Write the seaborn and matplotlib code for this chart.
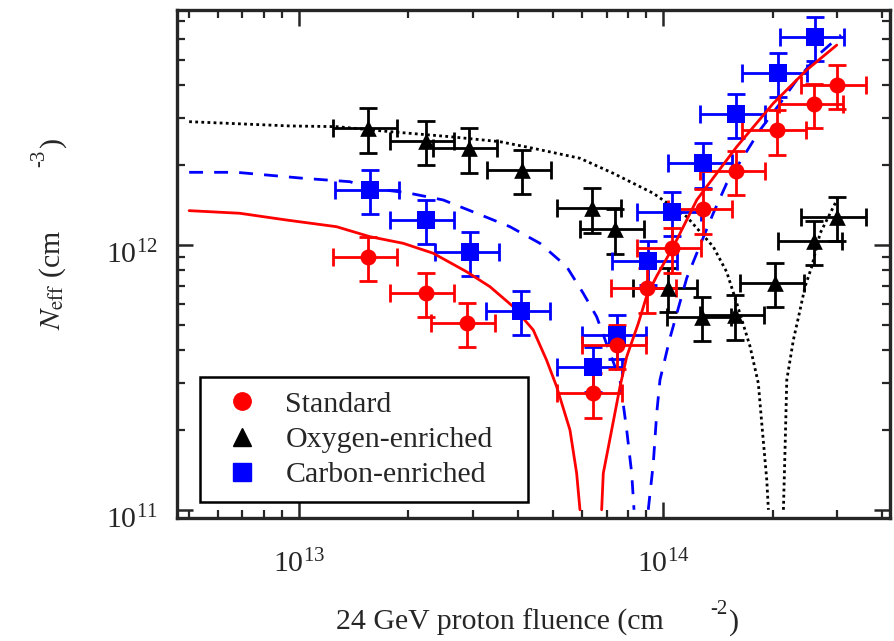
import matplotlib
matplotlib.use("Agg")
import matplotlib.pyplot as plt
import matplotlib.transforms as mtransforms
import seaborn as sns
from matplotlib.lines import Line2D
from matplotlib.ticker import LogLocator, NullFormatter, LogFormatterMathtext

sns.set_style("ticks")
plt.rcParams["font.family"] = ["Liberation Serif", "DejaVu Serif"]
plt.rcParams["mathtext.fontset"] = "stix"

# ---- measured effective doping vs. 24 GeV proton fluence ----
std_fluence = [1.55e13, 2.23e13, 2.89e13, 6.41e13, 7.49e13, 9.02e13,
               1.058e14, 1.29e14, 1.584e14, 2.06e14, 2.60e14, 3.00e14]
std_neff = [9.02e11, 6.60e11, 5.08e11, 2.75e11, 4.20e11, 6.85e11,
            9.70e11, 1.36e12, 1.90e12, 2.70e12, 3.40e12, 4.01e12]

oxy_fluence = [1.55e13, 2.23e13, 2.925e13, 4.11e13, 6.39e13, 7.38e13,
               1.034e14, 1.282e14, 1.577e14, 2.03e14, 2.59e14, 3.00e14]
oxy_neff = [2.75e12, 2.47e12, 2.31e12, 1.915e12, 1.373e12, 1.144e12,
            6.89e11, 5.36e11, 5.41e11, 7.16e11, 1.036e12, 1.276e12]

carb_fluence = [1.567e13, 2.23e13, 2.95e13, 4.07e13, 6.41e13, 7.49e13,
                9.08e13, 1.058e14, 1.29e14, 1.584e14, 2.066e14, 2.62e14]
carb_neff = [1.606e12, 1.24e12, 9.42e11, 5.64e11, 3.45e11, 4.57e11,
             8.69e11, 1.327e12, 2.03e12, 3.11e12, 4.44e12, 6.10e12]

# relative uncertainties of fluence and Neff
fluence_rel_err = 0.20
neff_rel_err = 0.19

# ---- model curves |Neff| (before and after type inversion) ----
std_model_pre_x = [5.0e12, 6.88e12, 9.25e12, 1.269e13, 1.567e13, 1.934e13, 2.339e13,
                   2.889e13, 3.347e13, 3.879e13, 4.402e13, 4.79e13, 5.105e13,
                   5.553e13, 5.793e13, 5.916e13]
std_model_pre_y = [1.345e12, 1.315e12, 1.24e12, 1.17e12, 1.073e12, 1.013e12, 9.29e11,
                   7.91e11, 6.95e11, 5.84e11, 4.77e11, 3.67e11, 2.914e11,
                   2.0e11, 1.373e11, 1.0e11]
std_model_post_x = [6.785e13, 6.855e13, 7.228e13, 7.619e13, 7.949e13, 8.554e13, 9.02e13,
                    9.61e13, 1.067e14, 1.238e14, 1.318e14, 1.594e14, 2.009e14,
                    2.482e14, 3.0e14]
std_model_post_y = [1.0e11, 1.373e11, 2.0e11, 2.914e11, 3.78e11, 5.05e11, 6.41e11,
                    7.62e11, 9.83e11, 1.476e12, 1.657e12, 2.345e12, 3.42e12,
                    4.57e12, 5.67e12]

carb_model_pre_x = [5.0e12, 6.74e12, 1.028e13, 1.381e13, 1.567e13, 1.976e13, 2.491e13,
                    3.077e13, 3.8e13, 4.592e13, 5.438e13, 6.04e13, 6.575e13,
                    7.151e13, 7.619e13, 7.949e13, 8.204e13, 8.325e13]
carb_model_pre_y = [1.877e12, 1.877e12, 1.782e12, 1.73e12, 1.634e12, 1.573e12, 1.476e12,
                    1.315e12, 1.17e12, 1.013e12, 8.27e11, 6.56e11, 5.35e11,
                    3.9e11, 3.09e11, 2.0e11, 1.373e11, 1.0e11]
carb_model_post_x = [9.11e13, 9.405e13, 9.61e13, 9.81e13, 1.045e14, 1.162e14, 1.238e14,
                     1.374e14, 1.496e14, 1.662e14, 1.847e14, 2.097e14, 2.33e14,
                     2.7e14, 3.08e14]
carb_model_post_y = [1.0e11, 1.498e11, 2.313e11, 3.09e11, 4.45e11, 7.49e11, 9.29e11,
                     1.315e12, 1.707e12, 2.15e12, 2.712e12, 3.42e12, 4.19e12,
                     5.28e12, 6.19e12]

oxy_model_pre_x = [5.0e12, 9.45e12, 1.269e13, 1.778e13, 2.6e13, 3.566e13, 4.402e13,
                   5.916e13, 7.3e13, 9.405e13, 1.162e14, 1.374e14, 1.496e14,
                   1.594e14, 1.734e14, 1.827e14, 1.867e14, 1.927e14, 1.947e14]
oxy_model_pre_y = [2.914e12, 2.808e12, 2.791e12, 2.672e12, 2.558e12, 2.449e12, 2.312e12,
                   2.12e12, 1.861e12, 1.564e12, 1.276e12, 9.83e11, 7.89e11,
                   6.02e11, 4.13e11, 3.0e11, 2.12e11, 1.296e11, 1.0e11]
oxy_model_post_x = [2.141e14, 2.164e14, 2.187e14, 2.28e14, 2.378e14, 2.455e14,
                    2.561e14, 2.7e14, 3.05e14]
oxy_model_post_y = [1.0e11, 1.73e11, 3.09e11, 4.37e11, 5.67e11, 6.95e11,
                    8.27e11, 1.105e12, 1.541e12]

colors = {"Standard": "#ff0000", "Oxygen-enriched": "#000000", "Carbon-enriched": "#0000ff"}
markers = {"Standard": "o", "Oxygen-enriched": "^", "Carbon-enriched": "s"}
msize = {"Standard": 11.5, "Oxygen-enriched": 12.0, "Carbon-enriched": 12.5}

fig = plt.figure(figsize=(8.94, 6.41), dpi=100)
ax = fig.add_axes([177 / 894, 123 / 641, 713 / 894, 508 / 641])
ax.set_xscale("log")
ax.set_yscale("log")

series = [
    ("Oxygen-enriched", oxy_fluence, oxy_neff,
     [(oxy_model_pre_x, oxy_model_pre_y), (oxy_model_post_x, oxy_model_post_y)],
     dict(linestyle=(0, (1, 1.2)), linewidth=2.0)),
    ("Carbon-enriched", carb_fluence, carb_neff,
     [(carb_model_pre_x, carb_model_pre_y), (carb_model_post_x, carb_model_post_y)],
     dict(linestyle=(0, (5, 4)), linewidth=2.0)),
    ("Standard", std_fluence, std_neff,
     [(std_model_pre_x, std_model_pre_y), (std_model_post_x, std_model_post_y)],
     dict(linestyle="-", linewidth=2.0)),
]

handles = {}
for name, fx, ny, curves, lstyle in series:
    c = colors[name]
    for cx, cy in curves:
        sns.lineplot(x=cx, y=cy, ax=ax, color=c, sort=False, estimator=None,
                     **lstyle)
    xerr = [v * fluence_rel_err for v in fx]
    yerr = [v * neff_rel_err for v in ny]
    ax.errorbar(fx, ny, xerr=xerr, yerr=yerr, fmt="none", ecolor=c,
                elinewidth=2.0, capsize=6.5, capthick=2.0)
    sns.scatterplot(x=fx, y=ny, ax=ax, color=c, marker=markers[name],
                    s=msize[name] ** 2, linewidth=0, zorder=3)
    handles[name] = Line2D([], [], linestyle="none", marker=markers[name],
                           color=c, markersize=msize[name] + 1, label=name)

ax.set_xlim(4.63e12, 4.2e14)
ax.set_ylim(9.31e10, 7.69e12)

for axis in (ax.xaxis, ax.yaxis):
    axis.set_major_locator(LogLocator(base=10))
    axis.set_minor_locator(LogLocator(base=10, subs=range(2, 10)))
    axis.set_minor_formatter(NullFormatter())
    axis.set_major_formatter(LogFormatterMathtext())

ax.tick_params(which="both", direction="in", top=True, right=True,
               labelsize=21.5)
ax.tick_params(which="major", length=11.5, width=1.8)
ax.tick_params(which="minor", length=6, width=1.6)
ax.tick_params(axis="x", which="major", pad=23)
ax.tick_params(axis="y", which="major", pad=14)
for sp in ax.spines.values():
    sp.set_linewidth(2.4)

# nudge the y tick labels slightly downward
shift = mtransforms.ScaledTranslation(0, -5 / 72, fig.dpi_scale_trans)
for lab in ax.get_yticklabels():
    lab.set_transform(lab.get_transform() + shift)

order = ["Standard", "Oxygen-enriched", "Carbon-enriched"]
leg = ax.legend([handles[k] for k in order], order, loc="lower left",
                bbox_to_anchor=(0.0323, 0.0315, 0.46, 0.244), mode="expand",
                fontsize=21.5, frameon=True, fancybox=False, framealpha=1,
                borderpad=0.46, handlelength=1.9, handletextpad=0.5,
                labelspacing=0.28, borderaxespad=0)
leg.get_frame().set_edgecolor("black")
leg.get_frame().set_linewidth(1.8)

# axis titles
fig.text(664 / 894, 11 / 641, "24 GeV proton fluence (cm", ha="right",
         va="baseline", fontsize=21.5)
fig.text(710 / 894, 27 / 641, "-2", ha="left", va="baseline", fontsize=15)
fig.text(729 / 894, 11 / 641, ")", ha="left", va="baseline", fontsize=21.5)

fig.text(60 / 894, 311 / 641, r"$N_{\rm eff}$ (cm", rotation=90,
         rotation_mode="anchor", ha="left", va="baseline", fontsize=21.5)
fig.text(44 / 894, 474 / 641, "-3", rotation=90, rotation_mode="anchor",
         ha="left", va="baseline", fontsize=15)
fig.text(60 / 894, 494 / 641, ")", rotation=90, rotation_mode="anchor",
         ha="left", va="baseline", fontsize=21.5)

fig.savefig("out.png", dpi=100)
